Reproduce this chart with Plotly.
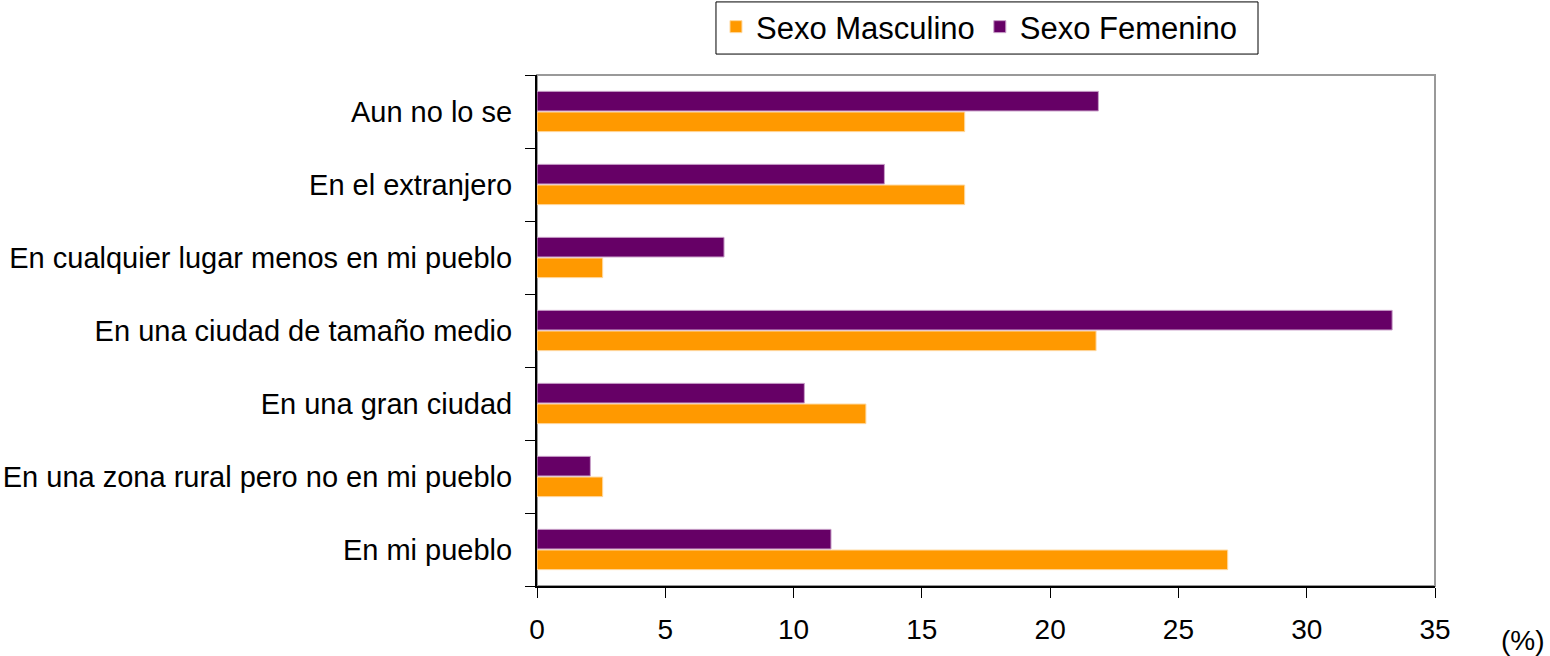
import plotly.graph_objects as go

categories = [
    "En mi pueblo",
    "En una zona rural pero no en mi pueblo",
    "En una gran ciudad",
    "En una ciudad de tamaño medio",
    "En cualquier lugar menos en mi pueblo",
    "En el extranjero",
    "Aun no lo se",
]
masculino = [26.92, 2.56, 12.82, 21.79, 2.56, 16.67, 16.67]
femenino = [11.46, 2.08, 10.42, 33.33, 7.29, 13.54, 21.88]
x_ticks = [0, 5, 10, 15, 20, 25, 30, 35]

FONT = "Liberation Sans, Arial, sans-serif"

fig = go.Figure()
fig.add_trace(go.Bar(
    y=categories, x=masculino, orientation="h", name="Sexo Masculino",
    marker=dict(color="#FF9900", line=dict(color="#FFD9A0", width=1)),
))
fig.add_trace(go.Bar(
    y=categories, x=femenino, orientation="h", name="Sexo Femenino",
    marker=dict(color="#660066", line=dict(color="#C9A0C9", width=1)),
))

fig.update_layout(
    width=1550, height=656,
    margin=dict(l=537, r=115, t=75, b=70, pad=0, autoexpand=False),
    paper_bgcolor="white", plot_bgcolor="white",
    barmode="group", bargap=0.434, bargroupgap=0.05,
    font=dict(family=FONT, size=29, color="black"),
    showlegend=True,
    legend=dict(
        orientation="h", x=0.1993, xanchor="left",
        yref="container", y=1.0, yanchor="top",
        borderwidth=0, bgcolor="rgba(0,0,0,0)",
        font=dict(family=FONT, size=31, color="black"),
        traceorder="normal", itemwidth=30,
    ),
    xaxis=dict(
        range=[0, 35], tickvals=x_ticks, ticks="outside", ticklen=10,
        tickcolor="black", showline=True, linecolor="black", linewidth=2,
        showgrid=False, zeroline=False, tickfont=dict(size=28),
        ticklabelstandoff=7, automargin=False,
    ),
    yaxis=dict(
        ticks="outside", ticklen=10, tickcolor="black", tickson="boundaries",
        showline=True, linecolor="black", linewidth=2, showgrid=False,
        tickfont=dict(size=29), ticklabelstandoff=17, automargin=False,
    ),
    shapes=[
        dict(
            type="rect", xref="paper", yref="paper", x0=0, x1=1, y0=0, y1=1,
            line=dict(color="#999999", width=2), layer="below",
        ),
        dict(
            type="rect", xref="paper", yref="paper",
            x0=0.1993, x1=0.8029, y0=1.041, y1=1.143,
            line=dict(color="black", width=1), layer="below",
        ),
    ],
    annotations=[dict(
        text="(%)", xref="paper", yref="paper", x=1.0713, y=-0.1076,
        xanchor="left", yanchor="middle", showarrow=False,
        font=dict(family=FONT, size=28, color="black"),
    )],
)

fig.write_html(
    "out.html",
    config={"displayModeBar": False},
    post_script="document.body.style.margin='0px';",
)
